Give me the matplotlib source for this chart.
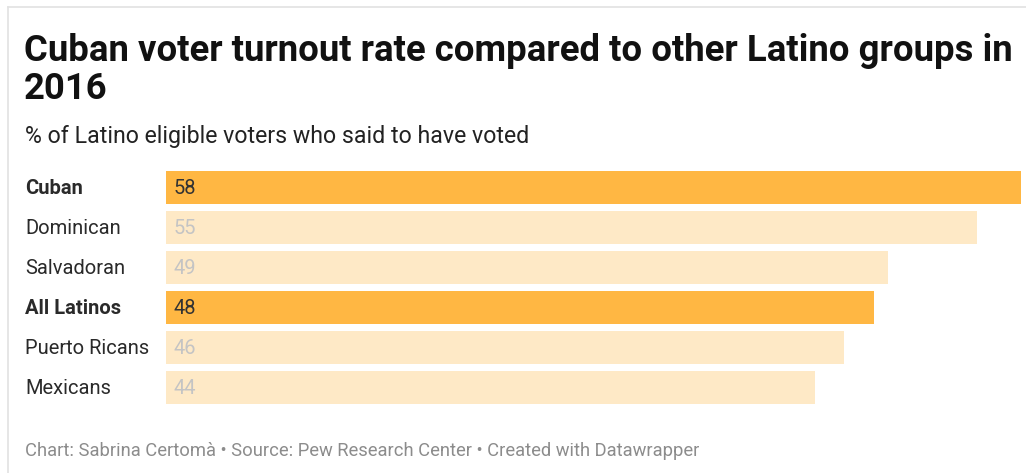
import matplotlib
matplotlib.use("Agg")
import matplotlib.pyplot as plt
from matplotlib.lines import Line2D
from matplotlib.transforms import blended_transform_factory

plt.rcParams['font.family'] = ['Roboto', 'DejaVu Sans']

categories = ["Cuban", "Dominican", "Salvadoran", "All Latinos", "Puerto Ricans", "Mexicans"]
turnout = [58, 55, 49, 48, 46, 44]
highlighted = ["Cuban", "All Latinos"]

title_lines = ["Cuban voter turnout rate compared to other Latino groups in", "2016"]
subtitle = "% of Latino eligible voters who said to have voted"
footer = "Chart: Sabrina Certomà • Source: Pew Research Center • Created with Datawrapper"

W, H = 1026, 473
fig = plt.figure(figsize=(W / 100, H / 100), dpi=100)
fig.patch.set_facecolor("white")

def fx(px):
    return px / W

def fy(py):
    return 1 - py / H

# frame lines along the top and left edges
fig.add_artist(Line2D([fx(7.5), 1], [fy(7.5), fy(7.5)], color="#e2e2e2", lw=1.2))
fig.add_artist(Line2D([fx(7.5), fx(7.5)], [fy(7.5), 0], color="#e2e2e2", lw=1.2))

# bar area
left, right = 166, 1021
top, bottom = 167.5, 407.5
ax = fig.add_axes([fx(left), fy(bottom), (right - left) / W, (bottom - top) / H])
ax.set_xlim(0, max(turnout))
ax.set_ylim(len(categories) - 0.5, -0.5)
ax.axis("off")

dark = "#ffb743"
light = "#fee9c6"
ypos = list(range(len(categories)))
colors = [dark if c in highlighted else light for c in categories]
ax.barh(ypos, turnout, height=0.825, color=colors, edgecolor="none")

trans = blended_transform_factory(fig.transFigure, ax.transData)
for y, cat, val in zip(ypos, categories, turnout):
    hl = cat in highlighted
    ax.text(fx(25), y + 0.02, cat, transform=trans, ha="left", va="center",
            fontsize=14.5, color="#2a2a2a", fontweight="bold" if hl else "normal")
    ax.text(fx(174), y + 0.02, f"{val}", transform=trans, ha="left", va="center",
            fontsize=14.5, color="#333333" if hl else "#c4c4c4")

for line, base in zip(title_lines, [61, 99]):
    fig.text(fx(24), fy(base), line, ha="left", va="baseline", fontsize=26.3,
             fontweight="bold", color="#111111")
fig.text(fx(25), fy(143), subtitle, ha="left", va="baseline", fontsize=16.7,
         color="#222222")
fig.text(fx(25), fy(456), footer, ha="left", va="baseline", fontsize=13.2,
         color="#8c8c8c")

fig.savefig("out.png", dpi=100, facecolor="white")
